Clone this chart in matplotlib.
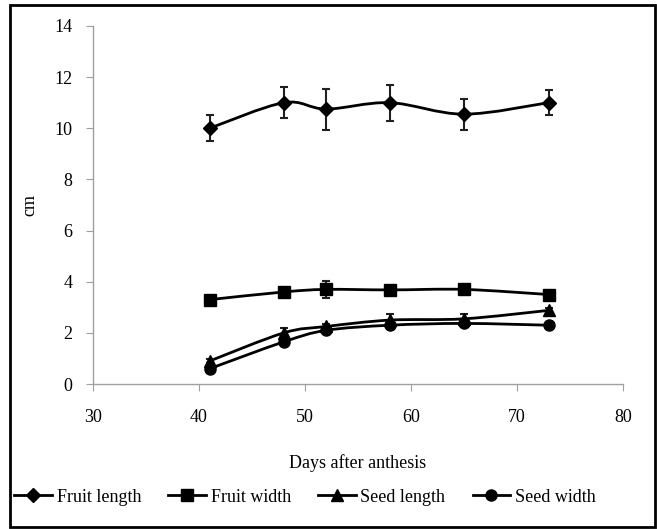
import matplotlib
matplotlib.use("Agg")
import matplotlib.pyplot as plt
from matplotlib.path import Path
from matplotlib.patches import PathPatch, Rectangle
from matplotlib.lines import Line2D

plt.rcParams['font.family'] = ['Liberation Serif', 'DejaVu Serif']

days = [41, 48, 52, 58, 65, 73]
fruit_length = [10.0, 11.0, 10.75, 11.0, 10.55, 11.0]
fruit_length_err = [0.5, 0.6, 0.8, 0.7, 0.6, 0.5]
fruit_width = [3.3, 3.6, 3.7, 3.68, 3.7, 3.5]
fruit_width_err = [0.1, 0.1, 0.32, 0.1, 0.1, 0.1]
seed_length = [0.9, 2.0, 2.25, 2.5, 2.55, 2.88]
seed_length_err = [0.08, 0.18, 0.1, 0.25, 0.18, 0.08]
seed_width = [0.6, 1.65, 2.1, 2.3, 2.37, 2.3]
seed_width_err = [0.1, 0.1, 0.08, 0.1, 0.08, 0.08]

series = [
    ("Fruit length", fruit_length, fruit_length_err, "D", 7),
    ("Fruit width", fruit_width, fruit_width_err, "s", 8),
    ("Seed length", seed_length, seed_length_err, "^", 8),
    ("Seed width", seed_width, seed_width_err, "o", 8),
]

fig = plt.figure(figsize=(6.57, 5.29), dpi=100)
ax = fig.add_axes([0.1416, 0.274, 0.8064, 0.677])


def smooth_path(xs, ys, t=1.0 / 6.0):
    verts = [(xs[0], ys[0])]
    codes = [Path.MOVETO]
    n = len(xs)
    for i in range(n - 1):
        x0, y0 = (xs[i - 1], ys[i - 1]) if i > 0 else (xs[i], ys[i])
        x1, y1 = xs[i], ys[i]
        x2, y2 = xs[i + 1], ys[i + 1]
        x3, y3 = (xs[i + 2], ys[i + 2]) if i + 2 < n else (x2, y2)
        c1 = (x1 + t * (x2 - x0), y1 + t * (y2 - y0))
        c2 = (x2 - t * (x3 - x1), y2 - t * (y3 - y1))
        verts += [c1, c2, (x2, y2)]
        codes += [Path.CURVE4] * 3
    return Path(verts, codes)


for name, vals, err, mk, ms in series:
    ax.add_patch(PathPatch(smooth_path(days, vals), facecolor='none',
                           edgecolor='black', lw=2, zorder=3))
    ax.errorbar(days, vals, yerr=err, fmt='none', ecolor='#202020',
                elinewidth=1.5, capsize=3, capthick=1.5, zorder=3)
    ax.plot(days, vals, linestyle='none', marker=mk, markersize=ms,
            color='black', zorder=4)

ax.set_xlim(30, 80)
ax.set_ylim(0, 14)
ax.set_xticks(range(30, 81, 10))
ax.set_yticks(range(0, 15, 2))
for s in ['top', 'right']:
    ax.spines[s].set_visible(False)
for s in ['left', 'bottom']:
    ax.spines[s].set_color('#a0a0a0')
    ax.spines[s].set_linewidth(1.0)
ax.tick_params(axis='both', direction='out', color='#a0a0a0', length=5,
               labelsize=13)
ax.tick_params(axis='y', pad=10)
ax.tick_params(axis='x', pad=13)
ax.set_xlabel("Days after anthesis", fontsize=13, labelpad=20)
ax.set_ylabel("cm", fontsize=13, labelpad=11)

handles = [Line2D([0], [0], color='black', lw=2, marker=mk, markersize=ms)
           for _, _, _, mk, ms in series]
labels = [s[0] for s in series]
fig.legend(handles, labels, loc='center', bbox_to_anchor=(0.4642, 0.06),
           ncol=4, frameon=False, fontsize=13, handlelength=2.1,
           handletextpad=0.25, columnspacing=1.5)

fig.patches.append(Rectangle((10 / 657, 2 / 529), 645 / 657, 522 / 529,
                             transform=fig.transFigure, fill=False,
                             edgecolor='black', lw=2))

fig.savefig("out.png", dpi=100)
